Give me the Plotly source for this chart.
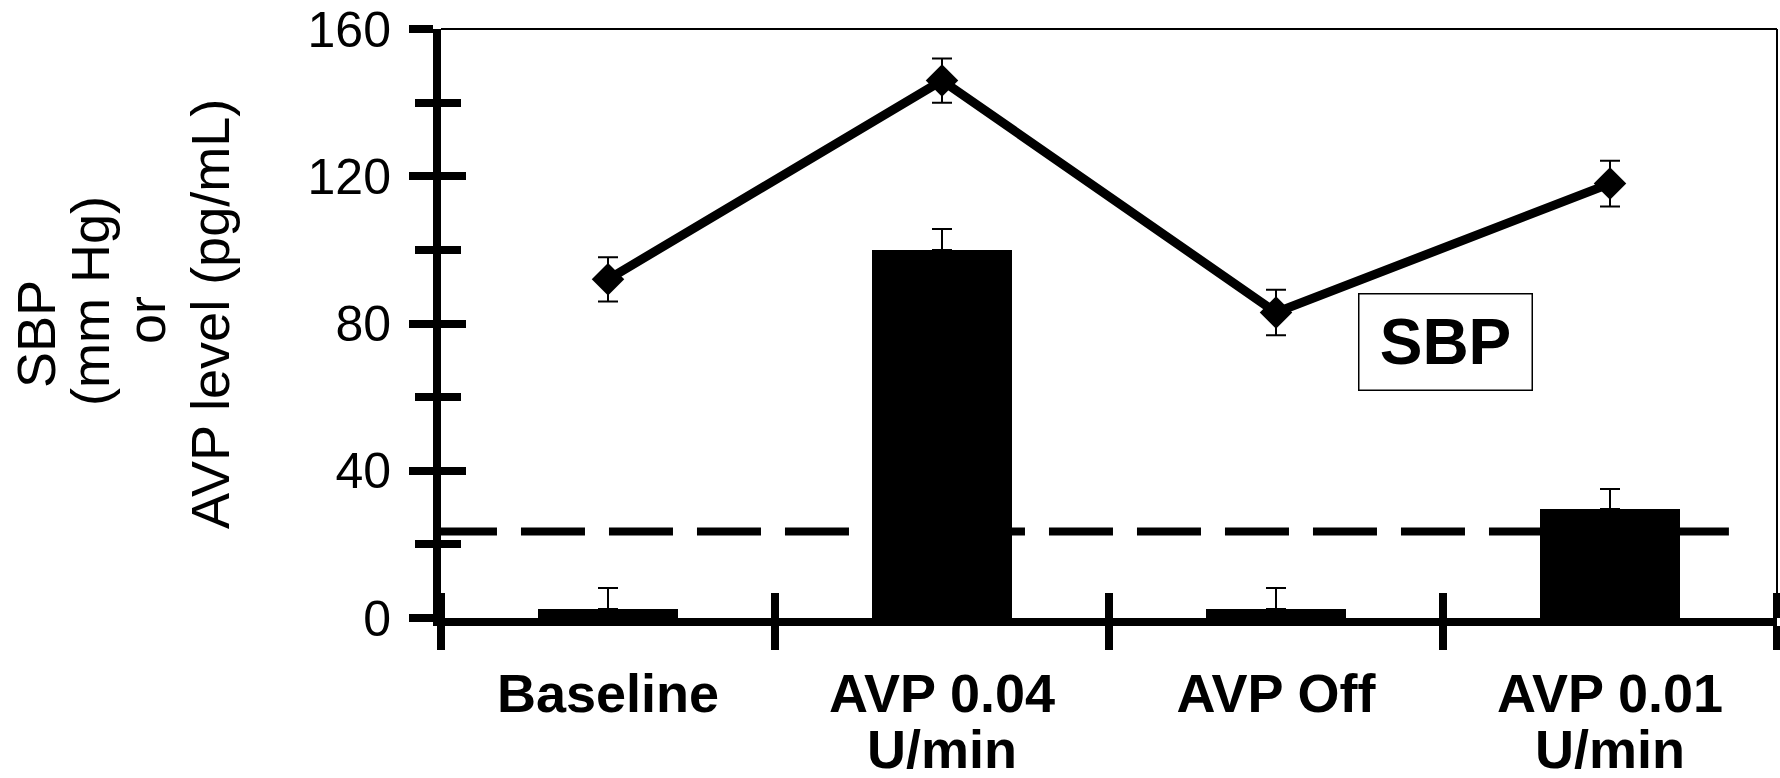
import plotly.graph_objects as go

# ---- data ----
labels_line1 = ["Baseline", "AVP 0.04", "AVP Off", "AVP 0.01"]
labels_line2 = ["", "U/min", "", "U/min"]
avp_level = [2.5, 100, 2.5, 29.5]
avp_err = [5.7, 5.7, 5.7, 5.6]
sbp = [92, 146, 83, 118]
sbp_err = [6, 6, 6.2, 6.2]
threshold = 23.5
threshold_x_start = -0.524
threshold_x_end = 3.356
y_major = [0, 40, 80, 120, 160]
y_minor = [20, 60, 100, 140]
title_lines = ["SBP", "(mm Hg)", "or", "AVP level (pg/mL)"]
box_label = "SBP"

x_pos = list(range(len(labels_line1)))
x_bounds = [i - 0.5 for i in range(len(labels_line1) + 1)]

FONT = "Liberation Sans, Arial, sans-serif"
W, H = 1780, 778
L, R, T, B = 441, 3, 29, 160
PAGE_L, PAGE_R, PAGE_T, PAGE_B = L, W - R, T, H - B

fig = go.Figure()

fig.add_trace(go.Bar(
    x=x_pos, y=avp_level, width=0.42,
    marker=dict(color="black", line=dict(width=0)),
    error_y=dict(type="data", symmetric=False, array=avp_err,
                 arrayminus=[0] * len(avp_err), thickness=2, width=10,
                 color="black"),
    showlegend=False, hoverinfo="skip",
))

fig.add_trace(go.Scatter(
    x=x_pos, y=sbp, mode="lines+markers",
    line=dict(color="black", width=9),
    marker=dict(symbol="diamond", size=25, color="black"),
    error_y=dict(type="data", array=sbp_err, thickness=2, width=10,
                 color="black"),
    showlegend=False, hoverinfo="skip",
))

# helper traces so overlay axes are drawn
fig.add_trace(go.Scatter(x=[None], y=[None], xaxis="x", yaxis="y2",
                         showlegend=False, hoverinfo="skip"))
fig.add_trace(go.Scatter(x=[None], y=[None], xaxis="x2", yaxis="y",
                         showlegend=False, hoverinfo="skip"))

fig.add_shape(type="line", xref="x", yref="y", x0=threshold_x_start,
              x1=threshold_x_end, y0=threshold, y1=threshold,
              line=dict(color="black", width=8, dash="64px,24px"))

# thin top and right frame
fig.add_shape(type="line", xref="x domain", yref="y domain", x0=0, x1=1,
              y0=1, y1=1, line=dict(color="black", width=2))
fig.add_shape(type="line", xref="x domain", yref="y domain", x0=1, x1=1,
              y0=0, y1=1, line=dict(color="black", width=2))

fig.add_annotation(x=2.506, y=75, xref="x", yref="y", text="<b>%s</b>" % box_label,
                   showarrow=False, font=dict(family=FONT, size=64, color="black"),
                   bordercolor="black", borderwidth=1.5, borderpad=1,
                   width=170, height=93, bgcolor="white")

pw = PAGE_R - PAGE_L
ph = PAGE_B - PAGE_T
title_cx = [36, 90, 146, 210]
title_cy = [334, 301, 320, 314]
for txt, cx, cy in zip(title_lines, title_cx, title_cy):
    fig.add_annotation(x=(cx - PAGE_L) / pw, y=(PAGE_B - cy) / ph,
                       xref="paper", yref="paper",
                       text=txt, textangle=-90, showarrow=False,
                       xanchor="center", yanchor="middle",
                       font=dict(family=FONT, size=54, color="black"))

common = dict(automargin=False, ticklabeloverflow="allow", showgrid=False,
              zeroline=False)

fig.update_layout(
    width=W, height=H,
    margin=dict(l=L, r=R, t=T, b=B, pad=0, autoexpand=False),
    paper_bgcolor="white", plot_bgcolor="white",
    showlegend=False, bargap=0,
    xaxis=dict(
        range=[x_bounds[0], x_bounds[-1]], tickmode="array",
        tickvals=x_pos, ticktext=["<b>%s</b>" % t for t in labels_line1],
        ticks="", showline=True, linecolor="black", linewidth=8,
        tickfont=dict(family=FONT, size=54, color="black"),
        ticklabelstandoff=21,
        minor=dict(tickmode="array", tickvals=x_bounds, ticks="outside",
                   ticklen=24, tickwidth=8, tickcolor="black", showgrid=False),
        **common,
    ),
    xaxis2=dict(
        overlaying="x", anchor="y", side="bottom",
        range=[x_bounds[0], x_bounds[-1]], tickmode="array",
        tickvals=x_pos, ticktext=["<b>%s</b>" % t for t in labels_line2],
        ticks="", showline=False,
        tickfont=dict(family=FONT, size=54, color="black"),
        ticklabelstandoff=95,
        minor=dict(tickmode="array", tickvals=x_bounds, ticks="inside",
                   ticklen=25, tickwidth=8, tickcolor="black", showgrid=False),
        **common,
    ),
    yaxis=dict(
        range=[0, 160], tickmode="array", tickvals=y_major,
        ticks="outside", ticklen=24, tickwidth=8, tickcolor="black",
        showline=True, linecolor="black", linewidth=8,
        tickfont=dict(family=FONT, size=50, color="black"),
        ticklabelstandoff=8,
        minor=dict(tickmode="array", tickvals=y_minor, ticks="outside",
                   ticklen=18, tickwidth=8, tickcolor="black", showgrid=False),
        **common,
    ),
    yaxis2=dict(
        overlaying="y", anchor="x", side="left",
        range=[0, 160], tickmode="array", tickvals=y_major,
        ticks="inside", ticklen=25, tickwidth=8, tickcolor="black",
        showticklabels=False, showline=False,
        minor=dict(tickmode="array", tickvals=y_minor, ticks="inside",
                   ticklen=20, tickwidth=8, tickcolor="black", showgrid=False),
        **common,
    ),
)

# remove the browser's default 8px body margin so the figure fills the window
fig.write_html("out.html", config={"displayModeBar": False},
               post_script="document.body.style.margin='0px';")
